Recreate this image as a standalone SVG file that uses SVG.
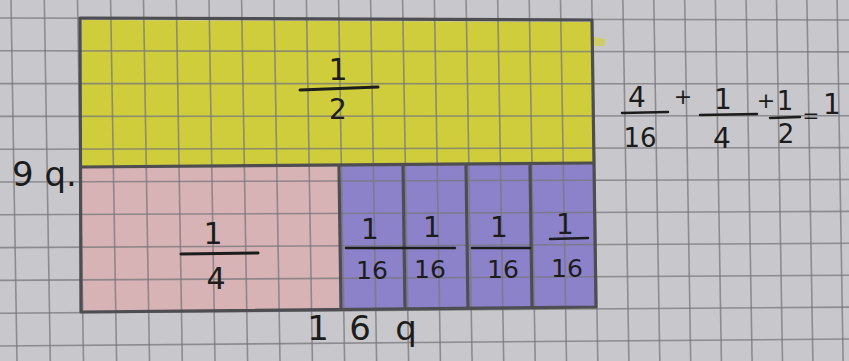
<svg xmlns="http://www.w3.org/2000/svg" width="849" height="361" viewBox="0 0 849 361">
<style>
.g{stroke:#77777c;stroke-width:1.6;stroke-opacity:0.75}
.edge{fill:none;stroke:#4e4e52;stroke-width:3.2;stroke-linejoin:round}
.t{font-family:"DejaVu Sans",sans-serif;fill:#1c1c1c;text-anchor:middle}
.bar{stroke:#1c1c1c;stroke-width:3;stroke-linecap:round}
.bar2{stroke:#1c1c1c;stroke-width:2.4;stroke-linecap:round}
</style>
<rect width="849" height="361" fill="#c8c8cc"/>
<g id="fills">
<polygon id="yellow" points="82,20 592,22 594,165 82,168" fill="#cfcd3c"/>
<polygon points="592,37 606,39 604,46 592,46" fill="#cfcd3c" opacity="0.7"/>
<polygon id="pink" points="82,168 339,166 341,309 82,311" fill="#d7b3b6"/>
<polygon id="purple" points="341,166 594,164 596,306 341,309" fill="#8c82c9"/>
</g>
<g id="grid">
<line class="g" x1="11" y1="0" x2="17" y2="361"/>
<line class="g" x1="44.3" y1="0" x2="50.3" y2="361"/>
<line class="g" x1="77.5" y1="0" x2="83.5" y2="361"/>
<line class="g" x1="110.6" y1="0" x2="116.6" y2="361"/>
<line class="g" x1="143.5" y1="0" x2="149.5" y2="361"/>
<line class="g" x1="176.3" y1="0" x2="182.3" y2="361"/>
<line class="g" x1="209" y1="0" x2="215" y2="361"/>
<line class="g" x1="241.6" y1="0" x2="247.6" y2="361"/>
<line class="g" x1="274" y1="0" x2="280" y2="361"/>
<line class="g" x1="306.4" y1="0" x2="312.4" y2="361"/>
<line class="g" x1="338.6" y1="0" x2="344.6" y2="361"/>
<line class="g" x1="370.6" y1="0" x2="376.6" y2="361"/>
<line class="g" x1="402.6" y1="0" x2="408.6" y2="361"/>
<line class="g" x1="434.4" y1="0" x2="440.4" y2="361"/>
<line class="g" x1="466.1" y1="0" x2="472.1" y2="361"/>
<line class="g" x1="497.7" y1="0" x2="503.7" y2="361"/>
<line class="g" x1="529.2" y1="0" x2="535.2" y2="361"/>
<line class="g" x1="560.5" y1="0" x2="566.5" y2="361"/>
<line class="g" x1="591.8" y1="0" x2="597.8" y2="361"/>
<line class="g" x1="622.9" y1="0" x2="628.9" y2="361"/>
<line class="g" x1="653.8" y1="0" x2="659.8" y2="361"/>
<line class="g" x1="684.7" y1="0" x2="690.7" y2="361"/>
<line class="g" x1="715.4" y1="0" x2="721.4" y2="361"/>
<line class="g" x1="746.1" y1="0" x2="752.1" y2="361"/>
<line class="g" x1="776.5" y1="0" x2="782.5" y2="361"/>
<line class="g" x1="806.9" y1="0" x2="812.9" y2="361"/>
<line class="g" x1="837.1" y1="0" x2="843.1" y2="361"/>
<line class="g" x1="0" y1="18" x2="849" y2="20"/>
<line class="g" x1="0" y1="50.8" x2="849" y2="51.9"/>
<line class="g" x1="0" y1="83.6" x2="849" y2="83.8"/>
<line class="g" x1="0" y1="116.4" x2="849" y2="115.7"/>
<line class="g" x1="0" y1="149.2" x2="849" y2="147.6"/>
<line class="g" x1="0" y1="182" x2="849" y2="179.5"/>
<line class="g" x1="0" y1="214.8" x2="849" y2="211.4"/>
<line class="g" x1="0" y1="247.6" x2="849" y2="243.3"/>
<line class="g" x1="0" y1="280.4" x2="849" y2="275.2"/>
<line class="g" x1="0" y1="313.2" x2="849" y2="307.1"/>
<line class="g" x1="0" y1="346" x2="849" y2="339"/>
</g>
<g id="outline">
<polygon class="edge" points="80,18 592,20 596,307 81,312"/>
<line class="edge" x1="80" y1="167" x2="594" y2="163"/>
<line class="edge" x1="339" y1="166" x2="341" y2="309"/>
<line class="edge" x1="403" y1="165" x2="405" y2="308" stroke-width="2.4"/>
<line class="edge" x1="466" y1="164" x2="468" y2="308" stroke-width="2.4"/>
<line class="edge" x1="530" y1="164" x2="532" y2="307" stroke-width="2.4"/>
</g>
<g id="half">
<text class="t" x="338" y="80" font-size="30">1</text>
<line class="bar" x1="300" y1="90" x2="378" y2="87"/>
<text class="t" x="338" y="119" font-size="28">2</text>
</g>
<g id="quarter">
<text class="t" x="213" y="244" font-size="30">1</text>
<line class="bar" x1="181" y1="254" x2="258" y2="253"/>
<text class="t" x="216" y="289" font-size="30">4</text>
</g>
<g id="sixteenths">
<text class="t" x="370" y="239" font-size="28">1</text>
<text class="t" x="432" y="237" font-size="28">1</text>
<text class="t" x="499" y="237" font-size="28">1</text>
<text class="t" x="565" y="234" font-size="28">1</text>
<line class="bar2" x1="346" y1="248" x2="455" y2="248"/>
<line class="bar2" x1="472" y1="248" x2="530" y2="248"/>
<line class="bar2" x1="550" y1="239" x2="588" y2="238"/>
<text class="t" x="372" y="279" font-size="25">16</text>
<text class="t" x="430" y="278" font-size="25">16</text>
<text class="t" x="503" y="278" font-size="25">16</text>
<text class="t" x="567" y="277" font-size="25">16</text>
</g>
<g id="equation">
<text class="t" x="637" y="107" font-size="28">4</text>
<line class="bar2" x1="622" y1="113" x2="668" y2="112"/>
<text class="t" x="640" y="147" font-size="26">16</text>
<text class="t" x="683" y="104" font-size="22">+</text>
<text class="t" x="723" y="109" font-size="28">1</text>
<line class="bar2" x1="700" y1="115" x2="757" y2="114"/>
<text class="t" x="722" y="148" font-size="28">4</text>
<text class="t" x="766" y="108" font-size="22">+</text>
<text class="t" x="785" y="110" font-size="26">1</text>
<line class="bar2" x1="770" y1="118" x2="800" y2="117"/>
<text class="t" x="786" y="143" font-size="26">2</text>
<text class="t" x="811" y="122" font-size="20">=</text>
<text class="t" x="832" y="114" font-size="28">1</text>
</g>
<g id="labels">
<text class="t" x="12" y="186" font-size="34" style="text-anchor:start">9 q.</text>
<text class="t" x="318 360 380 406" y="340" font-size="34">16 q</text>
</g>
</svg>
